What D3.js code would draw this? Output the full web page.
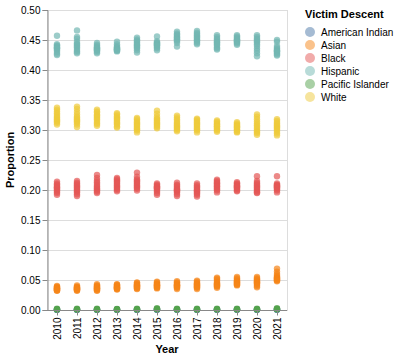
<!DOCTYPE html>
<html><head><meta charset="utf-8">
<script src="https://cdn.jsdelivr.net/npm/d3@7"></script>
<style>body{margin:0;background:#fff}svg{display:block;font-family:"Liberation Sans",Arial,sans-serif}</style>
</head><body><svg id="c" width="405" height="361"></svg>
<script>
const years = [2010,2011,2012,2013,2014,2015,2016,2017,2018,2019,2020,2021];
const groups = ["American Indian","Asian","Black","Hispanic","Pacific Islander","White"];
const colors = ["#4c78a8","#f58518","#e45756","#72b7b2","#54a24b","#eeca3b"];
const yTicks = [0,0.05,0.1,0.15,0.2,0.25,0.3,0.35,0.4,0.45,0.5];

// monthly proportions per year (estimated)
const americanIndian = [
 [0.001,0.0008,0.0006,0.0005],[0.001,0.0007,0.0006,0.0005],[0.0009,0.0007,0.0006,0.0004],[0.001,0.0008,0.0006,0.0005],
 [0.001,0.0008,0.0006,0.0005],[0.0012,0.0009,0.0007,0.0005],[0.0011,0.0009,0.0007,0.0005],[0.001,0.0008,0.0006,0.0005],
 [0.0011,0.0009,0.0007,0.0005],[0.0012,0.0009,0.0007,0.0005],[0.001,0.0008,0.0006,0.0005],[0.0012,0.001,0.0008,0.0006]];
const asian = [
 [0.040,0.039,0.038,0.037,0.036,0.036,0.035,0.035,0.034,0.033,0.033,0.032],
 [0.041,0.039,0.038,0.037,0.037,0.036,0.035,0.035,0.034,0.034,0.033,0.032],
 [0.043,0.041,0.040,0.039,0.038,0.037,0.036,0.036,0.035,0.034,0.033,0.032],
 [0.043,0.042,0.041,0.040,0.039,0.038,0.038,0.037,0.036,0.036,0.035,0.034],
 [0.046,0.045,0.043,0.042,0.041,0.040,0.040,0.039,0.038,0.037,0.036,0.035],
 [0.047,0.046,0.044,0.043,0.042,0.041,0.041,0.040,0.039,0.038,0.037,0.036],
 [0.048,0.046,0.045,0.043,0.042,0.041,0.041,0.040,0.039,0.038,0.037,0.035],
 [0.049,0.047,0.045,0.044,0.043,0.042,0.041,0.040,0.039,0.038,0.037,0.035],
 [0.054,0.052,0.050,0.047,0.045,0.044,0.043,0.042,0.041,0.040,0.039,0.037],
 [0.055,0.053,0.051,0.049,0.048,0.047,0.046,0.045,0.044,0.043,0.042,0.041],
 [0.055,0.053,0.051,0.050,0.048,0.047,0.046,0.045,0.044,0.042,0.040,0.038],
 [0.069,0.064,0.060,0.057,0.055,0.054,0.053,0.052,0.051,0.050,0.049,0.048]];
const black = [
 [0.214,0.211,0.209,0.207,0.205,0.204,0.203,0.201,0.199,0.197,0.195,0.192],
 [0.215,0.212,0.210,0.208,0.206,0.204,0.202,0.200,0.198,0.196,0.193,0.190],
 [0.225,0.220,0.216,0.213,0.210,0.207,0.205,0.203,0.201,0.199,0.197,0.195],
 [0.220,0.218,0.216,0.214,0.212,0.210,0.208,0.206,0.204,0.202,0.200,0.198],
 [0.229,0.222,0.218,0.216,0.214,0.212,0.210,0.208,0.206,0.204,0.202,0.199],
 [0.211,0.209,0.207,0.206,0.205,0.204,0.203,0.202,0.200,0.198,0.195,0.192],
 [0.212,0.209,0.207,0.205,0.203,0.201,0.200,0.199,0.198,0.196,0.193,0.190],
 [0.211,0.208,0.206,0.204,0.202,0.200,0.199,0.198,0.196,0.194,0.192,0.189],
 [0.217,0.215,0.213,0.211,0.210,0.208,0.206,0.205,0.203,0.201,0.199,0.196],
 [0.213,0.211,0.210,0.208,0.207,0.206,0.205,0.204,0.203,0.201,0.199,0.198],
 [0.223,0.215,0.212,0.210,0.208,0.206,0.204,0.202,0.200,0.198,0.196,0.195],
 [0.223,0.211,0.209,0.208,0.207,0.206,0.205,0.204,0.203,0.201,0.199,0.196]];
const hispanic = [
 [0.457,0.443,0.441,0.440,0.438,0.437,0.436,0.435,0.433,0.430,0.427,0.425],
 [0.466,0.455,0.452,0.447,0.444,0.442,0.440,0.438,0.435,0.432,0.430,0.428],
 [0.445,0.442,0.440,0.438,0.437,0.436,0.435,0.434,0.433,0.432,0.430,0.428],
 [0.447,0.443,0.440,0.438,0.437,0.436,0.435,0.434,0.434,0.433,0.432,0.431],
 [0.454,0.451,0.449,0.447,0.445,0.443,0.441,0.440,0.438,0.436,0.433,0.429],
 [0.456,0.448,0.446,0.445,0.444,0.443,0.442,0.441,0.440,0.438,0.436,0.433],
 [0.464,0.461,0.459,0.457,0.455,0.454,0.452,0.451,0.450,0.448,0.445,0.439],
 [0.465,0.462,0.460,0.458,0.456,0.454,0.452,0.450,0.449,0.447,0.445,0.443],
 [0.458,0.455,0.452,0.450,0.448,0.446,0.445,0.443,0.441,0.438,0.436,0.434],
 [0.458,0.456,0.454,0.452,0.451,0.450,0.449,0.448,0.447,0.446,0.444,0.442],
 [0.458,0.455,0.452,0.450,0.448,0.446,0.443,0.440,0.436,0.432,0.428,0.423],
 [0.450,0.447,0.440,0.437,0.435,0.433,0.432,0.431,0.430,0.428,0.426,0.424]];
const pacificIslander = [
 [0.002,0.0015,0.001,0.0008],[0.002,0.0015,0.001,0.0008],[0.002,0.0014,0.001,0.0008],[0.0018,0.0014,0.001,0.0008],
 [0.002,0.0015,0.0011,0.0008],[0.003,0.002,0.0015,0.001],[0.002,0.0015,0.0011,0.0008],[0.002,0.0015,0.001,0.0008],
 [0.002,0.0015,0.0011,0.0008],[0.002,0.0015,0.0011,0.0008],[0.002,0.0015,0.0011,0.0008],[0.003,0.0022,0.0015,0.001]];
const white = [
 [0.337,0.334,0.331,0.328,0.325,0.322,0.320,0.318,0.316,0.314,0.312,0.309],
 [0.339,0.335,0.330,0.326,0.322,0.320,0.318,0.316,0.314,0.312,0.309,0.305],
 [0.334,0.331,0.329,0.326,0.324,0.322,0.320,0.318,0.315,0.312,0.310,0.307],
 [0.328,0.326,0.323,0.321,0.319,0.317,0.315,0.313,0.311,0.309,0.306,0.304],
 [0.320,0.318,0.315,0.313,0.311,0.309,0.307,0.305,0.303,0.301,0.299,0.296],
 [0.332,0.327,0.322,0.319,0.317,0.315,0.313,0.311,0.309,0.307,0.305,0.303],
 [0.324,0.321,0.318,0.315,0.312,0.310,0.308,0.306,0.304,0.302,0.300,0.298],
 [0.319,0.317,0.315,0.313,0.311,0.309,0.307,0.305,0.303,0.301,0.299,0.296],
 [0.316,0.314,0.312,0.310,0.309,0.307,0.306,0.305,0.303,0.301,0.299,0.297],
 [0.313,0.311,0.309,0.308,0.306,0.305,0.304,0.302,0.301,0.299,0.297,0.296],
 [0.326,0.322,0.318,0.314,0.311,0.308,0.305,0.302,0.299,0.297,0.295,0.292],
 [0.318,0.315,0.312,0.310,0.308,0.306,0.304,0.302,0.300,0.297,0.294,0.291]];

const seriesValues = [americanIndian, asian, black, hispanic, pacificIslander, white];

const points = [];
groups.forEach((g,gi)=>{
  seriesValues[gi].forEach((vals,yi)=>{
    vals.forEach(v=>points.push({group:g, year:years[yi], value:v}));
  });
});

const svg = d3.select("#c");
const mLeft = 47, mTop = 10, W = 240, H = 300;
const x = d3.scalePoint().domain(years).range([mLeft, mLeft+W]).padding(0.5);
const y = d3.scaleLinear().domain([0,0.5]).range([mTop+H, mTop]);
const color = d3.scaleOrdinal().domain(groups).range(colors);

// gridlines
svg.append("g").selectAll("line").data(yTicks).join("line")
  .attr("x1",mLeft).attr("x2",mLeft+W).attr("y1",d=>y(d)+0.5).attr("y2",d=>y(d)+0.5)
  .attr("stroke","#ddd");
// frame
svg.append("rect").attr("x",mLeft+0.5).attr("y",mTop+0.5).attr("width",W).attr("height",H)
  .attr("fill","none").attr("stroke","#ddd");

// points
svg.append("g").selectAll("circle").data(points).join("circle")
  .attr("cx",d=>x(d.year)).attr("cy",d=>y(d.value)).attr("r",3.2)
  .attr("fill",d=>color(d.group)).attr("opacity",0.7);

// y axis
const yAxis = svg.append("g").attr("transform",`translate(${mLeft+0.5},0)`)
  .call(d3.axisLeft(y).tickValues(yTicks).tickFormat(d3.format(".2f")).tickSize(5).tickPadding(2));
yAxis.select(".domain").attr("stroke","#888");
yAxis.selectAll(".tick line").attr("stroke","#888");
yAxis.selectAll("text").attr("font-size",10).attr("fill","#000").attr("font-family","inherit");

// x axis
const xAxis = svg.append("g").attr("transform",`translate(0,${mTop+H+0.5})`)
  .call(d3.axisBottom(x).tickSize(5).tickSizeOuter(0));
xAxis.select(".domain").attr("stroke","#888").attr("d",`M${mLeft},0H${mLeft+W}`);
xAxis.selectAll(".tick line").attr("stroke","#888");
xAxis.selectAll("text").attr("font-size",10).attr("fill","#000").attr("font-family","inherit")
  .attr("transform","rotate(-90)").attr("text-anchor","end").attr("x",-7).attr("y",0).attr("dy","0.32em");

// titles
svg.append("text").attr("x",mLeft+W/2).attr("y",353).attr("text-anchor","middle")
  .attr("font-size",11).attr("font-weight","bold").text("Year");
svg.append("text").attr("transform",`translate(14,${mTop+H/2}) rotate(-90)`).attr("text-anchor","middle")
  .attr("font-size",11).attr("font-weight","bold").text("Proportion");

// legend
const lg = svg.append("g").attr("transform","translate(305,0)");
lg.append("text").attr("x",0).attr("y",18).attr("font-size",11).attr("font-weight","bold").text("Victim Descent");
const items = lg.selectAll("g.item").data(groups).join("g").attr("class","item")
  .attr("transform",(d,i)=>`translate(0,${32+i*13})`);
items.append("circle").attr("cx",5).attr("cy",0).attr("r",5).attr("fill",d=>color(d)).attr("opacity",0.5);
items.append("text").attr("x",16).attr("y",0).attr("dy","0.35em").attr("font-size",10).text(d=>d);
</script></body></html>
